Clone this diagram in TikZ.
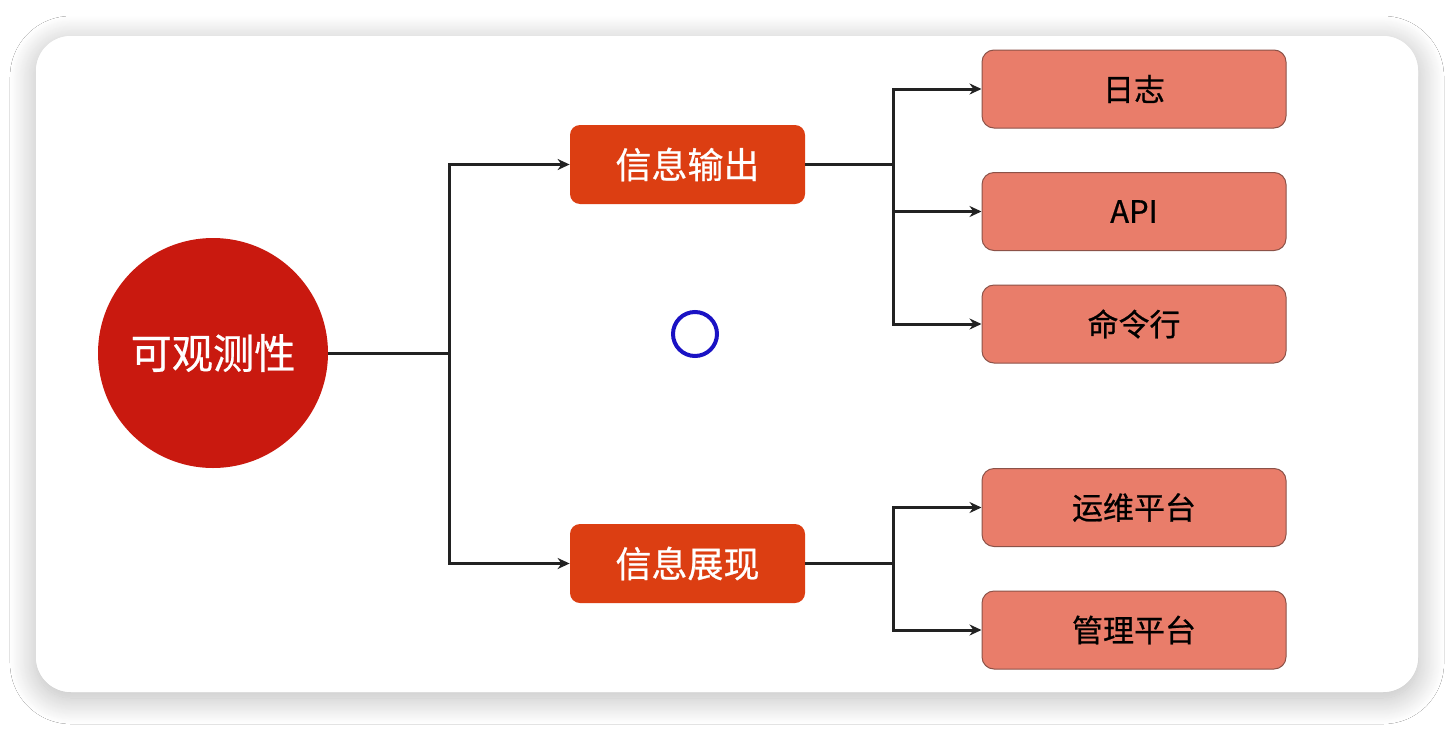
\documentclass[tikz,border=0pt]{standalone}
\usepackage{fontspec}
\setmainfont{Noto Sans CJK SC}
\newfontfamily\cjkmed{Noto Sans CJK SC}[FakeBold=0.6]
\usetikzlibrary{arrows.meta,shadows.blur}
\definecolor{rootred}{HTML}{C9190F}
\definecolor{midred}{HTML}{DC3E12}
\definecolor{leafred}{HTML}{E97D6A}
\definecolor{leafedge}{HTML}{8C5248}
\definecolor{linecol}{HTML}{222222}
\definecolor{ringblue}{HTML}{1A12C4}
\tikzset{
  rootnode/.style={circle,fill=rootred,minimum size=115pt,inner sep=0pt,text=white,font=\cjkmed\fontsize{20.6}{24}\selectfont},
  midbox/.style={rectangle,rounded corners=5pt,fill=midred,minimum width=117.5pt,minimum height=39.5pt,inner sep=0pt,text=white,font=\cjkmed\fontsize{18}{21}\selectfont},
  leafbox/.style={rectangle,rounded corners=6pt,fill=leafred,draw=leafedge,line width=0.5pt,minimum width=152pt,minimum height=39pt,inner sep=0pt,text=black,font=\cjkmed\fontsize{15.5}{18}\selectfont},
  conn/.style={draw=linecol,line width=1.5pt},
  arr/.style={conn,-{Stealth[length=6pt,width=5.5pt]}},
}
\begin{document}
\begin{tikzpicture}[x=0.5pt,y=-0.5pt]
\useasboundingbox (0,0) rectangle (1454,728);
\fill[white] (0,0) rectangle (1454,728);
\fill[white,rounded corners=17.5pt,blur shadow={shadow xshift=0pt,shadow yshift=-3pt,shadow blur radius=13pt,shadow blur steps=30,shadow opacity=28}] (36,36) rectangle (1418,692);
\fill[white,rounded corners=17.5pt] (36,36) rectangle (1418,692);

\node[rootnode] (root) at (213,353) {可观测性};
\node[midbox] (out) at (687.5,164.5) {信息输出};
\node[midbox] (show) at (687.5,563.5) {信息展现};
\node[leafbox] (log) at (1134,89) {日志};
\node[leafbox] (api) at (1134,211.5) {API};
\node[leafbox] (cmd) at (1134,324) {命令行};
\node[leafbox] (ops) at (1134,507.5) {运维平台};
\node[leafbox] (mgmt) at (1134,630) {管理平台};

\coordinate (j1) at (449,353);
\coordinate (j2) at (893,164.5);
\coordinate (j3) at (893,563.5);

\draw[conn] (root.east) -- (j1);
\draw[arr] (j1) |- (out.west);
\draw[arr] (j1) |- (show.west);
\draw[conn] (out.east) -- (j2);
\draw[arr] (j2) |- (log.west);
\draw[arr] (j2) |- (api.west);
\draw[arr] (j2) |- (cmd.west);
\draw[conn] (show.east) -- (j3);
\draw[arr] (j3) |- (ops.west);
\draw[arr] (j3) |- (mgmt.west);

\node[circle,draw=ringblue,line width=2pt,minimum size=22pt,inner sep=0pt] (ring) at (695,334) {};
\end{tikzpicture}
\end{document}
